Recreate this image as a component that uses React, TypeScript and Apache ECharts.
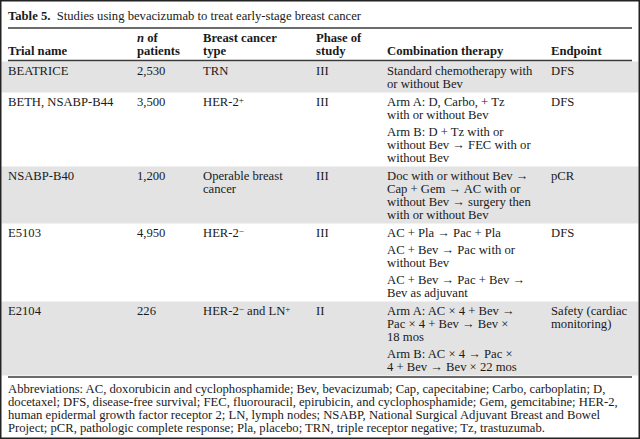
import React, { useEffect, useRef } from 'react';
import * as echarts from 'echarts';

const titleLabel = 'Table 5.';
const titleText = 'Studies using bevacizumab to treat early-stage breast cancer';
const headerLine1 = ['', '{bi|n} of', 'Breast cancer', 'Phase of', '', ''];
const headerLine2 = ['Trial name', 'patients', 'type', 'study', 'Combination therapy', 'Endpoint'];
const trialNames = ['BEATRICE', 'BETH, NSABP-B44', 'NSABP-B40', 'E5103', 'E2104'];
const patients = ['2,530', '3,500', '1,200', '4,950', '226'];
const cancerTypes = [
  ['TRN'],
  ['HER-2{sup|+}'],
  ['Operable breast', 'cancer'],
  ['HER-2{sup|−}'],
  ['HER-2{sup|−} and LN{sup|+}'],
];
const phases = ['III', 'III', 'III', 'III', 'II'];
const therapies = [
  [['Standard chemotherapy with', 'or without Bev']],
  [
    ['Arm A: D, Carbo, + Tz', 'with or without Bev'],
    ['Arm B: D + Tz with or', 'without Bev → FEC with or', 'without Bev'],
  ],
  [['Doc with or without Bev →', 'Cap + Gem → AC with or', 'without Bev → surgery then', 'with or without Bev']],
  [
    ['AC + Pla → Pac + Pla'],
    ['AC + Bev → Pac with or', 'without Bev'],
    ['AC + Bev → Pac + Bev →', 'Bev as adjuvant'],
  ],
  [
    ['Arm A: AC × 4 + Bev →', 'Pac × 4 + Bev → Bev ×', '18 mos'],
    ['Arm B: AC × 4 → Pac ×', '4 + Bev → Bev × 22 mos'],
  ],
];
const endpoints = [['DFS'], ['DFS'], ['pCR'], ['DFS'], ['Safety (cardiac', 'monitoring)']];
const shadedRows = [true, false, true, false, true];
const footnoteLines = [
  'Abbreviations: AC, doxorubicin and cyclophosphamide; Bev, bevacizumab; Cap, capecitabine; Carbo, carboplatin; D,',
  'docetaxel; DFS, disease-free survival; FEC, fluorouracil, epirubicin, and cyclophosphamide; Gem, gemcitabine; HER-2,',
  'human epidermal growth factor receptor 2; LN, lymph nodes; NSABP, National Surgical Adjuvant Breast and Bowel',
  'Project; pCR, pathologic complete response; Pla, placebo; TRN, triple receptor negative; Tz, trastuzumab.',
];

const W = 640;
const H = 439;
const FONT = 'Liberation Serif';
const FS = 12.65;
const LH = 13;
const PARA_GAP = 4;
const PAD = 9;
const colX = [8, 137, 203, 316, 387, 551];
const TEXT = '#1a1a1a';
const RULE = '#3a3a3a';
const SHADE = '#e3e3e3';

function makeRich(bold: boolean): any {
  return {
    sup: { fontFamily: FONT, fontSize: 9, fill: TEXT, verticalAlign: 'top', lineHeight: 5 },
    bi: { fontFamily: FONT, fontSize: FS, fontWeight: 'bold', fontStyle: 'italic', fill: TEXT, lineHeight: LH },
    b: { fontFamily: FONT, fontSize: FS, fontWeight: 'bold', fill: TEXT, lineHeight: LH },
    r: { fontFamily: FONT, fontSize: FS, fontWeight: bold ? 'bold' : 'normal', fill: TEXT, lineHeight: LH },
  };
}

function txt(x: number, y: number, text: string, bold = false): any {
  return {
    type: 'text',
    x,
    y,
    silent: true,
    style: {
      text,
      fill: TEXT,
      fontFamily: FONT,
      fontSize: FS,
      fontWeight: bold ? 'bold' : 'normal',
      lineHeight: LH,
      verticalAlign: 'middle',
      align: 'left',
      rich: makeRich(bold),
    },
  };
}

function hline(y: number, x1 = 8, x2 = 632, lw = 1.3): any {
  return {
    type: 'line',
    silent: true,
    shape: { x1, y1: y, x2, y2: y },
    style: { stroke: RULE, lineWidth: lw },
  };
}

function buildGraphics(): any[] {
  const els: any[] = [];
  els.push({ type: 'rect', silent: true, shape: { x: 0, y: 0, width: W, height: H }, style: { fill: '#ffffff' } });

  let top = 61.5;
  const rowTops: number[] = [];
  const rowHeights: number[] = [];
  for (let i = 0; i < trialNames.length; i++) {
    const paras = therapies[i];
    const nLines = paras.reduce((s, p) => s + p.length, 0);
    const therapyH = (nLines - 1) * LH + (paras.length - 1) * PARA_GAP;
    const otherH = Math.max(cancerTypes[i].length, endpoints[i].length) * LH - LH;
    const h = Math.max(therapyH, otherH) + PAD * 2;
    rowTops.push(top);
    rowHeights.push(h);
    top += h;
  }
  const tableBottom = top;

  for (let i = 0; i < trialNames.length; i++) {
    if (shadedRows[i]) {
      els.push({
        type: 'rect',
        silent: true,
        shape: { x: 1.5, y: rowTops[i], width: W - 3, height: rowHeights[i] },
        style: { fill: SHADE },
      });
    }
  }

  els.push(txt(8, 16, `{b|${titleLabel}}{r|  ${titleText}}`));
  els.push(hline(28));

  headerLine1.forEach((t, c) => {
    if (t) els.push(txt(colX[c], 37.5, t, true));
  });
  headerLine2.forEach((t, c) => {
    els.push(txt(colX[c], 51, t, true));
  });
  els.push(hline(60.5));

  for (let i = 0; i < trialNames.length; i++) {
    const y0 = rowTops[i] + PAD;
    els.push(txt(colX[0], y0, trialNames[i]));
    els.push(txt(colX[1], y0, patients[i]));
    cancerTypes[i].forEach((t, k) => els.push(txt(colX[2], y0 + k * LH, t)));
    els.push(txt(colX[3], y0, phases[i]));
    let y = y0;
    therapies[i].forEach((para, p) => {
      if (p > 0) y += PARA_GAP;
      para.forEach((line) => {
        els.push(txt(colX[4], y, line));
        y += LH;
      });
    });
    endpoints[i].forEach((t, k) => els.push(txt(colX[5], y0 + k * LH, t)));
  }

  els.push(hline(tableBottom + 1.5));

  footnoteLines.forEach((t, k) => {
    els.push(txt(8, tableBottom + 13.5 + k * LH, t));
  });

  els.push({
    type: 'rect',
    silent: true,
    shape: { x: 0.75, y: 0.75, width: W - 1.5, height: H - 1.5 },
    style: { fill: 'none', stroke: '#222222', lineWidth: 1.5 },
  });
  return els;
}

export default function App() {
  const ref = useRef<HTMLDivElement>(null);
  useEffect(() => {
    document.body.style.margin = '0';
    if (!ref.current) return;
    const chart = echarts.init(ref.current, undefined, { renderer: 'svg', width: W, height: H });
    chart.setOption({
      animation: false,
      backgroundColor: '#ffffff',
      graphic: { elements: buildGraphics() },
    });
    return () => chart.dispose();
  }, []);
  return <div ref={ref} style={{ position: 'fixed', left: 0, top: 0, width: W, height: H }} />;
}
